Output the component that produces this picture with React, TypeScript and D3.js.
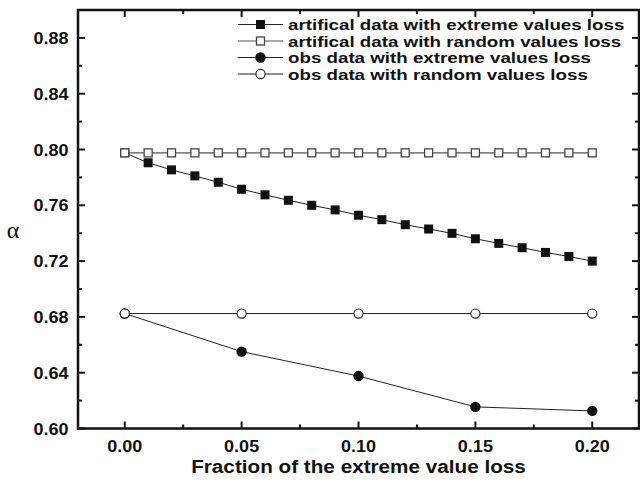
import React from "react";
import * as d3 from "d3";

const xArt = [0, 0.01, 0.02, 0.03, 0.04, 0.05, 0.06, 0.07, 0.08, 0.09, 0.1, 0.11, 0.12, 0.13, 0.14, 0.15, 0.16, 0.17, 0.18, 0.19, 0.2];
const artExtreme = [0.7976, 0.7905, 0.7854, 0.7811, 0.7765, 0.7715, 0.7675, 0.7636, 0.76, 0.7567, 0.7529, 0.7497, 0.7461, 0.743, 0.7399, 0.736, 0.7327, 0.7296, 0.7262, 0.7233, 0.72];
const artRandom = [0.7976, 0.7976, 0.7976, 0.7976, 0.7976, 0.7976, 0.7976, 0.7976, 0.7976, 0.7976, 0.7976, 0.7976, 0.7976, 0.7976, 0.7976, 0.7976, 0.7976, 0.7976, 0.7976, 0.7976, 0.7976];
const xObs = [0, 0.05, 0.1, 0.15, 0.2];
const obsExtreme = [0.6824, 0.6551, 0.6376, 0.6155, 0.6126];
const obsRandom = [0.6824, 0.6824, 0.6824, 0.6824, 0.6824];

const xMajor = [0, 0.05, 0.1, 0.15, 0.2];
const xMinor = [-0.025, 0.025, 0.075, 0.125, 0.175, 0.225];
const yMajor = [0.6, 0.64, 0.68, 0.72, 0.76, 0.8, 0.84, 0.88];
const yMinor = [0.62, 0.66, 0.7, 0.74, 0.78, 0.82, 0.86, 0.9];

const legendLabels = [
  "artifical data with extreme values loss",
  "artifical data with random values loss",
  "obs data with extreme values loss",
  "obs data with random values loss",
];

const L = 78, R = 639, T = 10, B = 428.5;
const FONT = "'Liberation Sans', Arial, Helvetica, sans-serif";

export default function App() {
  const x = d3.scaleLinear().domain([-0.02, 0.22]).range([L, R]);
  const y = d3.scaleLinear().domain([0.6, 0.9]).range([B, T]);
  const line = d3.line<[number, number]>().x((d) => x(d[0])).y((d) => y(d[1]));
  const zip = (xs: number[], ys: number[]) => xs.map((v, i) => [v, ys[i]] as [number, number]);

  const sqF = 9, sqO = 8;
  const legY = [24.5, 41, 57.5, 74];
  const legX0 = 238, legX1 = 283, legM = 260.5, legT = 288;

  const marker = (k: number, cx: number, cy: number, key: string) => {
    if (k === 0) return <rect key={key} x={cx - sqF / 2} y={cy - sqF / 2} width={sqF} height={sqF} fill="#111" />;
    if (k === 1) return <rect key={key} x={cx - sqO / 2} y={cy - sqO / 2} width={sqO} height={sqO} fill="#fff" stroke="#444" strokeWidth={1.3} />;
    if (k === 2) return <circle key={key} cx={cx} cy={cy} r={5.2} fill="#111" />;
    return <circle key={key} cx={cx} cy={cy} r={4.6} fill="#fff" stroke="#222" strokeWidth={1.1} />;
  };
  const lineColors = ["#222", "#555", "#222", "#222"];

  return (
    <svg width={640} height={486} style={{ position: "absolute", left: 0, top: 0, background: "#fff" }}>
      {/* series */}
      <path d={line(zip(xArt, artExtreme)) || ""} fill="none" stroke={lineColors[0]} strokeWidth={1} />
      {xArt.map((v, i) => marker(0, x(v), y(artExtreme[i]), "ae" + i))}
      <path d={line(zip(xArt, artRandom)) || ""} fill="none" stroke={lineColors[1]} strokeWidth={1.2} />
      {xArt.map((v, i) => marker(1, x(v), y(artRandom[i]), "ar" + i))}
      <path d={line(zip(xObs, obsExtreme)) || ""} fill="none" stroke={lineColors[2]} strokeWidth={1} />
      {xObs.map((v, i) => marker(2, x(v), y(obsExtreme[i]), "oe" + i))}
      <path d={line(zip(xObs, obsRandom)) || ""} fill="none" stroke={lineColors[3]} strokeWidth={1} />
      {xObs.map((v, i) => marker(3, x(v), y(obsRandom[i]), "or" + i))}

      {/* ticks */}
      {xMajor.map((v) => (
        <g key={"xm" + v}>
          <line x1={x(v)} x2={x(v)} y1={B} y2={B - 7} stroke="#111" strokeWidth={2} />
          <line x1={x(v)} x2={x(v)} y1={T} y2={T + 7} stroke="#111" strokeWidth={2} />
          <text transform={`translate(${x(v)},452) scale(1.06,1)`} textAnchor="middle" fontFamily={FONT} fontWeight="bold" fontSize={17} fill="#111">
            {d3.format(".2f")(v)}
          </text>
        </g>
      ))}
      {xMinor.filter((v) => x(v) > L + 2 && x(v) < R - 2).map((v) => (
        <g key={"xn" + v}>
          <line x1={x(v)} x2={x(v)} y1={B} y2={B - 4} stroke="#111" strokeWidth={2} />
          <line x1={x(v)} x2={x(v)} y1={T} y2={T + 4} stroke="#111" strokeWidth={2} />
        </g>
      ))}
      {yMajor.map((v) => (
        <g key={"ym" + v}>
          <line x1={L} x2={L + 7} y1={y(v)} y2={y(v)} stroke="#111" strokeWidth={2} />
          <line x1={R} x2={R - 7} y1={y(v)} y2={y(v)} stroke="#111" strokeWidth={2} />
          <text transform={`translate(68.5,${y(v) + 6}) scale(1.06,1)`} textAnchor="end" fontFamily={FONT} fontWeight="bold" fontSize={17} fill="#111">
            {d3.format(".2f")(v)}
          </text>
        </g>
      ))}
      {yMinor.filter((v) => y(v) > T + 2).map((v) => (
        <g key={"yn" + v}>
          <line x1={L} x2={L + 4} y1={y(v)} y2={y(v)} stroke="#111" strokeWidth={2} />
          <line x1={R} x2={R - 4} y1={y(v)} y2={y(v)} stroke="#111" strokeWidth={2} />
        </g>
      ))}

      {/* frame */}
      <rect x={L} y={T} width={R - L} height={B - T} fill="none" stroke="#111" strokeWidth={2.5} />

      {/* axis titles */}
      <text transform={`translate(${(x(0) + x(0.2)) / 2},473) scale(1.09,1)`} textAnchor="middle" fontFamily={FONT} fontWeight="bold" fontSize={19} fill="#111">
        Fraction of the extreme value loss
      </text>
      <text x={13} y={238} textAnchor="middle" fontFamily="'Liberation Serif', 'Times New Roman', serif" fontSize={24} fill="#111">
        α
      </text>

      {/* legend */}
      {legendLabels.map((lab, i) => (
        <g key={"lg" + i}>
          <line x1={legX0} x2={legX1} y1={legY[i]} y2={legY[i]} stroke={lineColors[i]} strokeWidth={1.2} />
          {marker(i, legM, legY[i], "lm" + i)}
          <text transform={`translate(${legT},${legY[i] + 5.5}) scale(1.21,1)`} fontFamily={FONT} fontWeight="bold" fontSize={15.5} fill="#111">
            {lab}
          </text>
        </g>
      ))}
    </svg>
  );
}
